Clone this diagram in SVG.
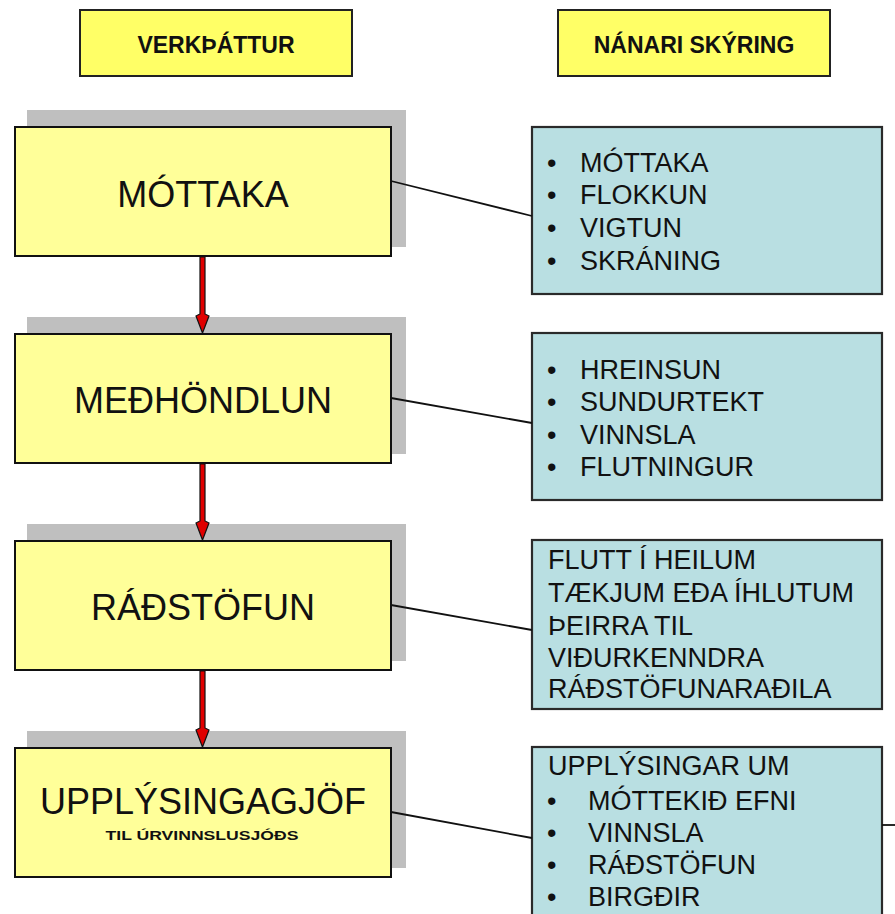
<svg xmlns="http://www.w3.org/2000/svg" width="895" height="914" viewBox="0 0 895 914">
<style>
.hdr{fill:#FFFF66;stroke:#222;stroke-width:2}
.hdrt{font-family:"Liberation Sans",Arial,sans-serif;font-weight:bold;font-size:23px;fill:#111;text-anchor:middle}
.shadow{fill:#BFBFBF}
.main{fill:#FFFF99;stroke:#111;stroke-width:2}
.maint{font-family:"Liberation Sans",Arial,sans-serif;font-size:36px;fill:#111;text-anchor:middle}
.sub{font-family:"Liberation Sans",Arial,sans-serif;font-weight:bold;font-size:12px;fill:#111;text-anchor:middle}
.info{fill:#B9DFE2;stroke:#2a2a2a;stroke-width:2.2}
.it{font-family:"Liberation Sans",Arial,sans-serif;font-size:27px;fill:#111}
.link{stroke:#111;stroke-width:1.8;fill:none}
.arrow{fill:#E00000;stroke:#111;stroke-width:1.2;stroke-linejoin:miter}
</style>
<rect width="895" height="914" fill="#fff"/>

<g id="header-verkthattur">
<rect class="hdr" x="80" y="10" width="272" height="66"/>
<text class="hdrt" x="216" y="53">VERKÞÁTTUR</text>
</g>
<g id="header-nanari">
<rect class="hdr" x="558" y="10" width="272" height="66"/>
<text class="hdrt" x="694" y="53">NÁNARI SKÝRING</text>
</g>

<g id="step-mottaka">
<rect class="shadow" x="27" y="110" width="379" height="137"/>
<rect class="main" x="15" y="127" width="376" height="129"/>
<text class="maint" x="203" y="207">MÓTTAKA</text>
</g>
<g id="step-medhondlun">
<rect class="shadow" x="27" y="317" width="379" height="137"/>
<rect class="main" x="15" y="334" width="376" height="129"/>
<text class="maint" x="203" y="413">MEÐHÖNDLUN</text>
</g>
<g id="step-radstofun">
<rect class="shadow" x="27" y="524" width="379" height="137"/>
<rect class="main" x="15" y="541" width="376" height="129"/>
<text class="maint" x="203" y="620">RÁÐSTÖFUN</text>
</g>
<g id="step-upplysingagjof">
<rect class="shadow" x="27" y="731" width="379" height="137"/>
<rect class="main" x="15" y="748" width="376" height="129"/>
<text class="maint" x="203" y="814">UPPLÝSINGAGJÖF</text>
<text class="sub" x="202" y="840" textLength="193" lengthAdjust="spacingAndGlyphs">TIL ÚRVINNSLUSJÓÐS</text>
</g>

<g id="info-mottaka">
<rect class="info" x="532" y="127" width="350" height="167"/>
<text class="it" x="547" y="172">•</text><text class="it" x="580" y="172">MÓTTAKA</text>
<text class="it" x="547" y="204">•</text><text class="it" x="580" y="204">FLOKKUN</text>
<text class="it" x="547" y="237">•</text><text class="it" x="580" y="237">VIGTUN</text>
<text class="it" x="547" y="270">•</text><text class="it" x="580" y="270">SKRÁNING</text>
</g>
<g id="info-medhondlun">
<rect class="info" x="532" y="333" width="350" height="167"/>
<text class="it" x="547" y="379">•</text><text class="it" x="580" y="379">HREINSUN</text>
<text class="it" x="547" y="411">•</text><text class="it" x="580" y="411">SUNDURTEKT</text>
<text class="it" x="547" y="444">•</text><text class="it" x="580" y="444">VINNSLA</text>
<text class="it" x="547" y="476">•</text><text class="it" x="580" y="476">FLUTNINGUR</text>
</g>
<g id="info-radstofun">
<rect class="info" x="532" y="540" width="350" height="169"/>
<text class="it" x="548" y="569">FLUTT Í HEILUM</text>
<text class="it" x="548" y="602">TÆKJUM EÐA ÍHLUTUM</text>
<text class="it" x="548" y="635">ÞEIRRA TIL</text>
<text class="it" x="548" y="667">VIÐURKENNDRA</text>
<text class="it" x="548" y="698">RÁÐSTÖFUNARAÐILA</text>
</g>
<g id="info-upplysingar">
<rect class="info" x="532" y="747" width="350" height="180"/>
<text class="it" x="548" y="775">UPPLÝSINGAR UM</text>
<text class="it" x="547" y="810">•</text><text class="it" x="588" y="810">MÓTTEKIÐ EFNI</text>
<text class="it" x="547" y="842">•</text><text class="it" x="588" y="842">VINNSLA</text>
<text class="it" x="547" y="874">•</text><text class="it" x="588" y="874">RÁÐSTÖFUN</text>
<text class="it" x="547" y="906">•</text><text class="it" x="588" y="906">BIRGÐIR</text>
</g>

<g id="connectors">
<line class="link" x1="391" y1="181" x2="532" y2="216"/>
<line class="link" x1="391" y1="398" x2="532" y2="423"/>
<line class="link" x1="391" y1="605" x2="532" y2="630"/>
<line class="link" x1="391" y1="812" x2="532" y2="838"/>
<line class="link" x1="882" y1="825" x2="895" y2="825"/>
<path class="arrow" d="M200,257 L205,257 L205,314 L209,316 L202.5,333 L196,316 L200,314 Z"/>
<path class="arrow" d="M200,464 L205,464 L205,521 L209,523 L202.5,540 L196,523 L200,521 Z"/>
<path class="arrow" d="M200,671 L205,671 L205,728 L209,730 L202.5,747 L196,730 L200,728 Z"/>
</g>
</svg>
